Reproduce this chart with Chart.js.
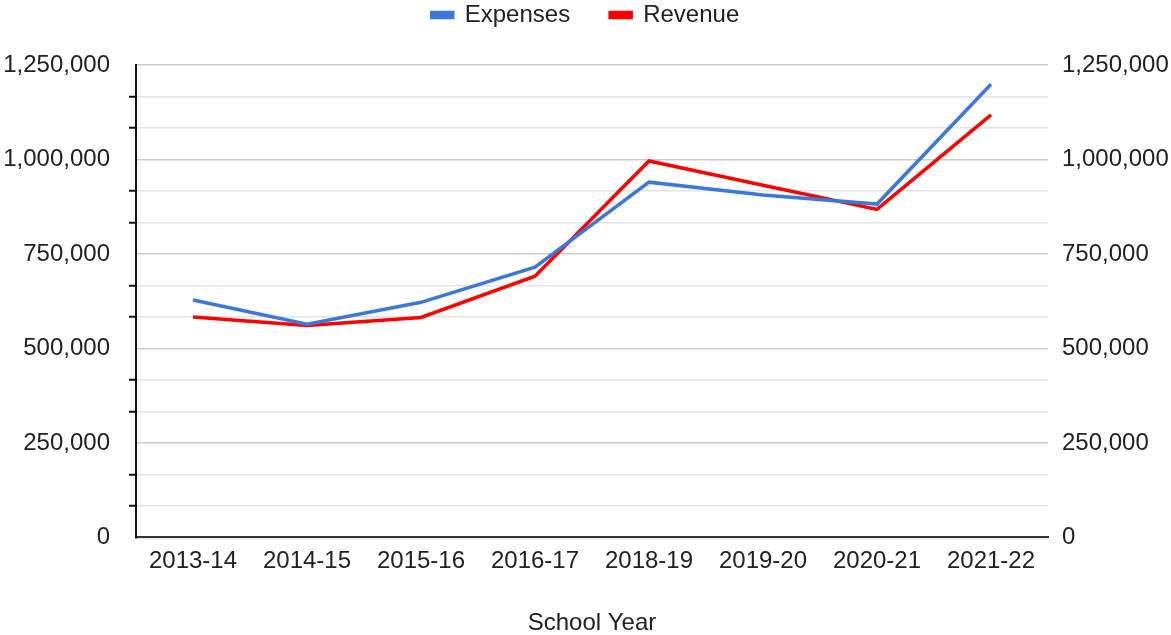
<!DOCTYPE html>
<html>
<head>
<meta charset="utf-8">
<script src="https://cdn.jsdelivr.net/npm/chart.js@4/dist/chart.umd.min.js"></script>
<style>
  html, body { margin: 0; padding: 0; background: #fff; }
  #wrap { width: 1171px; height: 635px; position: relative; }
</style>
</head>
<body>
<div id="wrap"><canvas id="chart"></canvas></div>
<script>
// data
const schoolYears = ['2013-14', '2014-15', '2015-16', '2016-17', '2018-19', '2019-20', '2020-21', '2021-22'];
const expenses = [628000, 564000, 622000, 715000, 940000, 906000, 882000, 1199000];
const revenue = [583000, 561000, 582000, 691000, 996000, 932000, 868000, 1118000];

// labelled ticks, with two unlabelled minor lines between each pair
const yTickLabels = [0, 250000, 500000, 750000, 1000000, 1250000];
const minorSteps = 3;

const fontFamily = 'Arial, "Liberation Sans", sans-serif';
Chart.defaults.font.family = fontFamily;
Chart.defaults.color = '#222';

function isMajor(v) {
    return yTickLabels.some(t => Math.abs(t - v) < 1);
}

function buildTicks(scale) {
    const ticks = [];
    for (let i = 0; i < yTickLabels.length - 1; i++) {
        const a = yTickLabels[i], b = yTickLabels[i + 1];
        for (let j = 0; j < minorSteps; j++) {
            ticks.push({ value: a + (b - a) * j / minorSteps });
        }
    }
    ticks.push({ value: yTickLabels[yTickLabels.length - 1] });
    scale.ticks = ticks;
}

function fmt(v) {
    return isMajor(v) ? Math.round(v).toLocaleString('en-US') : '';
}

// push the plot down a bit under the legend
const legendGap = {
    id: 'legendGap',
    beforeInit(chart) {
        const fit = chart.legend.fit;
        chart.legend.fit = function() {
            fit.bind(chart.legend)();
            this.height += 28;
        };
    }
};

const ctx = document.getElementById('chart').getContext('2d');
new Chart(ctx, {
    type: 'line',
    data: {
        labels: schoolYears,
        datasets: [
            {
                label: 'Expenses',
                data: expenses,
                borderColor: '#3c78d8',
                backgroundColor: '#3c78d8',
                borderWidth: 3.5,
                pointRadius: 0,
                tension: 0,
                yAxisID: 'y'
            },
            {
                label: 'Revenue',
                data: revenue,
                borderColor: '#ff0000',
                backgroundColor: '#ff0000',
                borderWidth: 3.5,
                pointRadius: 0,
                tension: 0,
                yAxisID: 'y2'
            }
        ]
    },
    options: {
        responsive: true,
        maintainAspectRatio: false,
        animation: false,
        layout: { padding: { top: -37, bottom: -3, left: 0, right: 0 } },
        plugins: {
            legend: {
                position: 'top',
                labels: {
                    boxWidth: 21,
                    boxHeight: 5,
                    padding: 40,
                    color: '#222',
                    font: { size: 24 }
                }
            },
            tooltip: { enabled: false }
        },
        scales: {
            x: {
                offset: true,
                grid: { display: false, drawTicks: false },
                border: { display: true, color: '#333', width: 2 },
                ticks: { color: '#222', font: { size: 24 }, padding: 10, maxRotation: 0 },
                title: {
                    display: true,
                    text: 'School Year',
                    color: '#222',
                    font: { size: 24 },
                    padding: { top: 23, bottom: 0 }
                }
            },
            y: {
                position: 'left',
                min: 0,
                max: 1250000,
                afterBuildTicks: buildTicks,
                afterFit: s => { s.width = 136; },
                border: { display: true, color: '#111', width: 2 },
                grid: {
                    color: c => isMajor(c.tick.value) ? '#cccccc' : '#e4e4e4',
                    lineWidth: 1.5,
                    drawTicks: true,
                    tickLength: 7,
                    tickColor: c => isMajor(c.tick.value) ? 'rgba(0,0,0,0)' : '#111',
                    tickWidth: 2
                },
                ticks: {
                    autoSkip: false,
                    color: '#222',
                    font: { size: 24 },
                    padding: 19,
                    callback: fmt
                }
            },
            y2: {
                position: 'right',
                min: 0,
                max: 1250000,
                afterBuildTicks: buildTicks,
                afterFit: s => { s.width = 123; },
                border: { display: false },
                grid: { display: false, drawOnChartArea: false, drawTicks: false },
                ticks: {
                    autoSkip: false,
                    color: '#222',
                    font: { size: 24 },
                    padding: 14,
                    callback: fmt
                }
            }
        }
    },
    plugins: [legendGap]
});
</script>
</body>
</html>
